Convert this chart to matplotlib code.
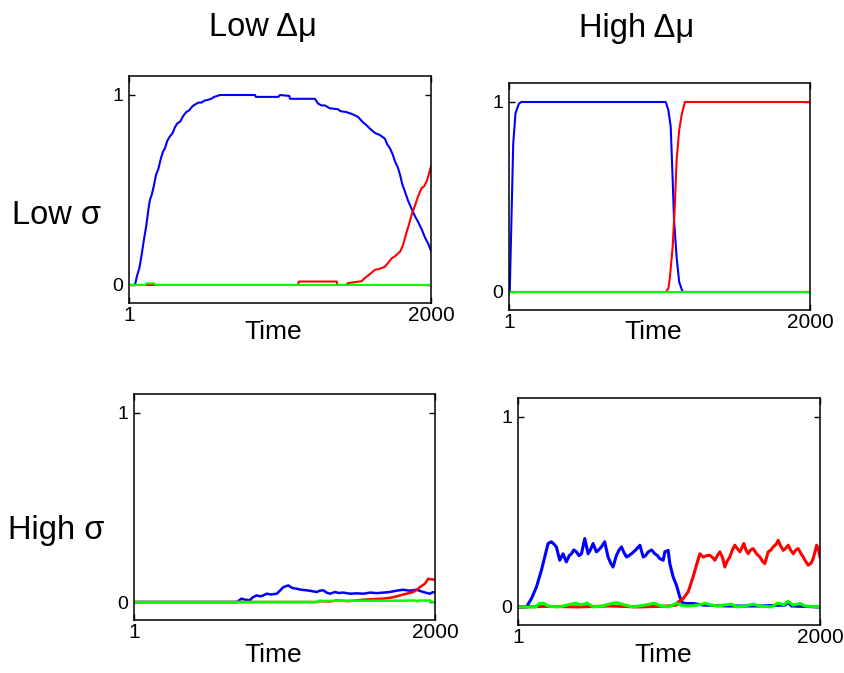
import matplotlib
matplotlib.use("Agg")
import matplotlib.pyplot as plt
import numpy as np

plt.rcParams['font.family'] = ['Liberation Sans', 'DejaVu Sans']

# ---- data: (time, fraction) pairs per strategy ----
col_titles = ["Low \u0394\u03bc", "High \u0394\u03bc"]
row_titles = ["Low \u03c3", "High \u03c3"]
x_ticks = [1, 2000]
y_ticks = [0, 1]

lowmu_lowsig_blue = [(1, 0), (40, 0), (55, 0.05), (70, 0.09), (85, 0.16), (100, 0.24), (115, 0.31),
                     (130, 0.40), (140, 0.45), (150, 0.47), (165, 0.52), (180, 0.58), (195, 0.61),
                     (210, 0.66), (225, 0.70), (239, 0.72), (255, 0.76), (270, 0.78), (290, 0.80),
                     (305, 0.83), (320, 0.85), (340, 0.86), (360, 0.89), (380, 0.91), (400, 0.92),
                     (420, 0.94), (438, 0.95), (460, 0.96), (480, 0.96), (500, 0.97), (526, 0.975),
                     (545, 0.98), (565, 0.99), (585, 0.995), (603, 1.0), (835, 1.0), (840, 0.99),
                     (990, 0.99), (1000, 1.0), (1062, 0.995), (1067, 0.98), (1232, 0.98), (1252, 0.955),
                     (1275, 0.945), (1298, 0.945), (1330, 0.93), (1385, 0.925), (1400, 0.915),
                     (1440, 0.91), (1477, 0.9), (1517, 0.885), (1545, 0.86), (1574, 0.84), (1600, 0.82),
                     (1629, 0.8), (1660, 0.79), (1695, 0.77), (1710, 0.74), (1728, 0.72), (1745, 0.69),
                     (1762, 0.65), (1780, 0.62), (1795, 0.58), (1810, 0.53), (1828, 0.49), (1850, 0.44),
                     (1872, 0.40), (1895, 0.36), (1916, 0.33), (1940, 0.29), (1960, 0.25), (1980, 0.22),
                     (2000, 0.18)]
lowmu_lowsig_red = [(1, 0), (1120, 0), (1125, 0.018), (1376, 0.018), (1380, 0), (1440, 0), (1450, 0.01),
                    (1500, 0.015), (1541, 0.02), (1560, 0.035), (1585, 0.05), (1600, 0.06), (1629, 0.08),
                    (1660, 0.085), (1695, 0.096), (1720, 0.12), (1739, 0.14), (1760, 0.15), (1795, 0.175),
                    (1815, 0.21), (1839, 0.28), (1855, 0.32), (1872, 0.37), (1895, 0.42), (1916, 0.47),
                    (1938, 0.51), (1955, 0.52), (1971, 0.545), (1985, 0.58), (2000, 0.625)]
lowmu_lowsig_green = [(1, 0), (110, 0), (115, 0.008), (170, 0.008), (175, 0), (2000, 0)]

highmu_lowsig_blue = [(1, 0), (6, 0), (29, 0.78), (44, 0.94), (66, 0.99), (82, 1), (1042, 1),
                      (1059, 0.958), (1075, 0.87), (1088, 0.59), (1097, 0.38), (1114, 0.185),
                      (1131, 0.053), (1154, 0), (2000, 0)]
highmu_lowsig_red = [(1, 0), (1043, 0), (1060, 0.02), (1070, 0.08), (1088, 0.24), (1103, 0.466),
                     (1114, 0.695), (1131, 0.85), (1147, 0.93), (1169, 1), (2000, 1)]
highmu_lowsig_green = [(1, 0), (2000, 0)]

lowmu_highsig_blue = [(1, 0), (683, 0), (716, 0.018), (740, 0.012), (771, 0.01), (790, 0.025),
                      (816, 0.035), (840, 0.03), (860, 0.035), (882, 0.044), (910, 0.04), (949, 0.044),
                      (970, 0.06), (993, 0.079), (1026, 0.088), (1050, 0.075), (1082, 0.07),
                      (1110, 0.065), (1148, 0.062), (1180, 0.058), (1214, 0.053), (1235, 0.06),
                      (1258, 0.062), (1280, 0.05), (1303, 0.044), (1336, 0.053), (1360, 0.048),
                      (1391, 0.05), (1435, 0.044), (1480, 0.046), (1524, 0.044), (1570, 0.05),
                      (1612, 0.047), (1660, 0.05), (1701, 0.053), (1745, 0.06), (1789, 0.065),
                      (1830, 0.06), (1878, 0.065), (1922, 0.053), (1966, 0.044), (1985, 0.052),
                      (2000, 0.05)]
lowmu_highsig_red = [(1, 0), (1214, 0), (1240, 0.005), (1300, 0.003), (1350, 0.008), (1420, 0.005),
                     (1480, 0.008), (1520, 0.012), (1580, 0.015), (1657, 0.018), (1700, 0.022),
                     (1745, 0.03), (1780, 0.038), (1811, 0.044), (1856, 0.053), (1880, 0.065),
                     (1900, 0.079), (1933, 0.097), (1955, 0.123), (1975, 0.12), (2000, 0.118)]
lowmu_highsig_green = [(1, 0), (1214, 0), (1225, 0.006), (1700, 0.007), (1870, 0.008), (1880, 0.003),
                       (1890, 0.008), (1970, 0.008), (1975, 0), (2000, 0)]

highmu_highsig_blue = [(1, 0), (57, 0), (90, 0.044), (123, 0.105), (156, 0.193), (178, 0.263),
                       (200, 0.334), (222, 0.343), (240, 0.33), (255, 0.316), (277, 0.246), (299, 0.28),
                       (321, 0.237), (340, 0.27), (355, 0.28), (370, 0.3), (388, 0.29), (405, 0.27),
                       (421, 0.28), (443, 0.36), (465, 0.28), (480, 0.3), (498, 0.334), (520, 0.29),
                       (535, 0.3), (553, 0.316), (575, 0.343), (597, 0.263), (615, 0.23), (630, 0.21),
                       (652, 0.27), (670, 0.3), (686, 0.316), (700, 0.29), (719, 0.263), (735, 0.27),
                       (752, 0.28), (780, 0.3), (808, 0.325), (830, 0.263), (845, 0.27), (863, 0.29),
                       (885, 0.3), (907, 0.28), (925, 0.27), (940, 0.254), (962, 0.246), (973, 0.29),
                       (995, 0.298), (1006, 0.228), (1028, 0.158), (1050, 0.114), (1072, 0.053),
                       (1085, 0.026), (1105, 0.018), (1160, 0.018), (1226, 0.01), (1381, 0.005),
                       (1600, 0.005), (1770, 0.01), (1790, 0.026), (1810, 0.005), (2000, 0.0)]
highmu_highsig_red = [(1, 0), (200, 0.003), (400, 0.0), (600, 0.005), (800, 0.0), (1000, 0.005),
                      (1050, 0.01), (1061, 0.026), (1094, 0.044), (1127, 0.079), (1160, 0.158),
                      (1182, 0.22), (1205, 0.28), (1226, 0.263), (1250, 0.27), (1270, 0.272),
                      (1290, 0.26), (1304, 0.246), (1320, 0.27), (1337, 0.29), (1355, 0.26),
                      (1370, 0.21), (1385, 0.24), (1403, 0.263), (1420, 0.3), (1436, 0.325),
                      (1450, 0.31), (1470, 0.29), (1496, 0.334), (1510, 0.3), (1525, 0.28),
                      (1540, 0.3), (1558, 0.307), (1580, 0.28), (1602, 0.263), (1620, 0.24),
                      (1635, 0.228), (1657, 0.29), (1675, 0.3), (1690, 0.316), (1710, 0.33),
                      (1723, 0.351), (1740, 0.32), (1757, 0.298), (1775, 0.31), (1790, 0.325),
                      (1805, 0.3), (1823, 0.28), (1840, 0.3), (1856, 0.307), (1875, 0.28),
                      (1889, 0.263), (1905, 0.24), (1922, 0.22), (1940, 0.23), (1955, 0.254),
                      (1970, 0.3), (1978, 0.325), (1990, 0.3), (2000, 0.263)]
highmu_highsig_green = [(1, 0), (120, 0), (140, 0.018), (170, 0.02), (200, 0.005), (260, 0.0),
                        (300, 0.005), (380, 0.02), (420, 0.012), (460, 0.02), (500, 0.0), (560, 0.005),
                        (620, 0.018), (660, 0.022), (710, 0.01), (760, 0.0), (860, 0.012), (900, 0.02),
                        (950, 0.005), (1000, 0.0), (1050, 0.02), (1080, 0.01), (1120, 0.005),
                        (1200, 0.01), (1240, 0.02), (1270, 0.012), (1320, 0.005), (1414, 0.015),
                        (1450, 0.0), (1500, 0.005), (1558, 0.015), (1600, 0.005), (1680, 0.0),
                        (1720, 0.02), (1760, 0.012), (1790, 0.03), (1820, 0.01), (1870, 0.018),
                        (1900, 0.005), (2000, 0.0)]

panels = [
    # (left, top, right, bottom) in pixels, series, line width, "Time" label (x centre, top) in pixels
    ((129, 76, 431, 303), [lowmu_lowsig_blue, lowmu_lowsig_red, lowmu_lowsig_green], 1.5, (273, 320)),
    ((509, 83, 810, 310), [highmu_lowsig_blue, highmu_lowsig_red, highmu_lowsig_green], 1.5, (653, 320)),
    ((134, 394, 435, 620), [lowmu_highsig_blue, lowmu_highsig_red, lowmu_highsig_green], 1.8, (273, 643)),
    ((518, 398, 820, 625), [highmu_highsig_blue, highmu_highsig_red, highmu_highsig_green], 2.2, (663, 643)),
]
colors = ['#0000ff', '#ff0000', '#00ff00']

W, H = 844, 673
fig = plt.figure(figsize=(W / 100, H / 100), dpi=100)

for (l, t, r, b), series, lw, (lx, ly) in panels:
    ax = fig.add_axes([l / W, 1 - b / H, (r - l) / W, (b - t) / H])
    for s, c in zip(series, colors):
        xs, ys = zip(*s)
        ax.plot(xs, ys, color=c, lw=lw, solid_joinstyle='round')
    ax.set_xlim(1, 2000)
    ax.set_ylim(-0.095, 1.1)
    ax.set_xticks(x_ticks)
    ax.set_xticklabels([str(v) for v in x_ticks])
    ax.set_yticks(y_ticks)
    ax.set_yticklabels([str(v) for v in y_ticks])
    ax.tick_params(direction='in', length=4, width=1, top=True, right=True, pad=3)
    ax.tick_params(axis='x', labelsize=15, pad=2)
    ax.tick_params(axis='y', labelsize=14, pad=4)
    ax.set_xlabel("Time", fontsize=19)
    ax.xaxis.set_label_coords((lx - l) / (r - l), -(ly - b) / (b - t))
    for sp in ax.spines.values():
        sp.set_linewidth(1.1)

fig.text(263 / W, 1 - 28 / H, col_titles[0], fontsize=23.5, ha='center', va='center')
fig.text(637 / W, 1 - 28 / H, col_titles[1], fontsize=23.5, ha='center', va='center')
fig.text(56 / W, 1 - 215 / H, row_titles[0], fontsize=23.5, ha='center', va='center')
fig.text(56 / W, 1 - 531 / H, row_titles[1], fontsize=23.5, ha='center', va='center')

fig.savefig("out.png", dpi=100)
